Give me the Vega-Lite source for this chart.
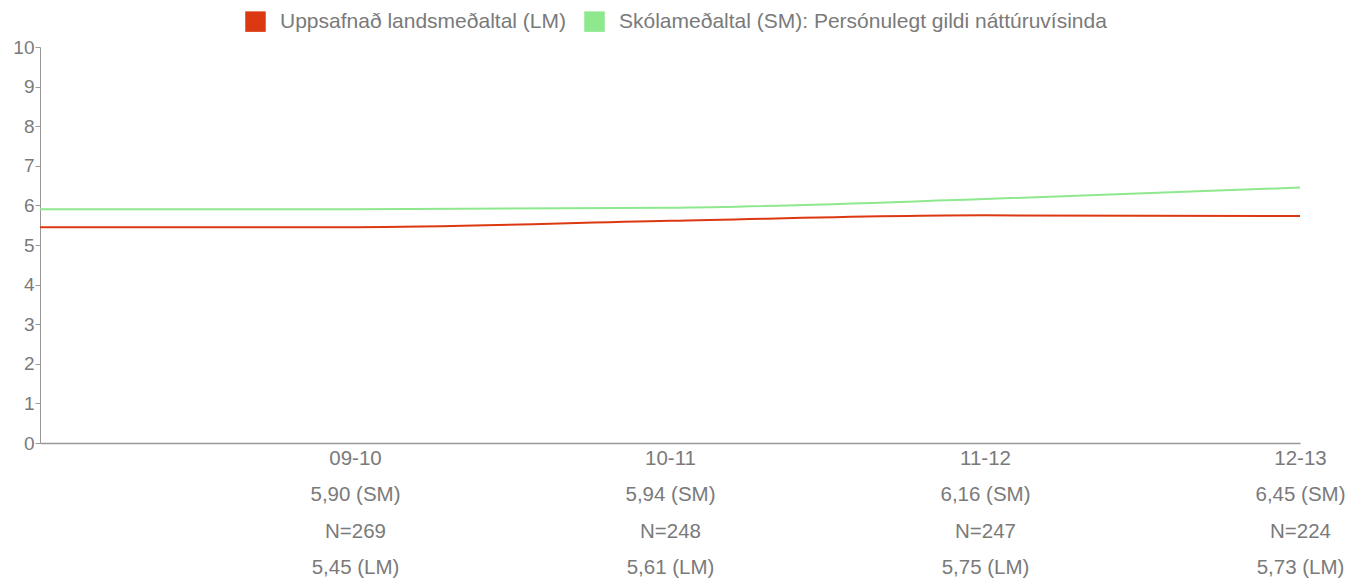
{
  "$schema": "https://vega.github.io/schema/vega-lite/v6.json",
  "autosize": {"type": "none"},
  "width": 1260,
  "height": 396,
  "padding": {"left": 40, "top": 47, "right": 47, "bottom": 135},
  "background": "white",
  "config": {
    "font": "Liberation Sans",
    "view": {"stroke": null}
  },
  "data": {
    "values": [
      {"idx": 0, "series": "Uppsafnað landsmeðaltal (LM)", "value": 5.45},
      {"idx": 1, "series": "Uppsafnað landsmeðaltal (LM)", "value": 5.45},
      {"idx": 2, "series": "Uppsafnað landsmeðaltal (LM)", "value": 5.61},
      {"idx": 3, "series": "Uppsafnað landsmeðaltal (LM)", "value": 5.75},
      {"idx": 4, "series": "Uppsafnað landsmeðaltal (LM)", "value": 5.73},
      {"idx": 0, "series": "Skólameðaltal (SM): Persónulegt gildi náttúruvísinda", "value": 5.90},
      {"idx": 1, "series": "Skólameðaltal (SM): Persónulegt gildi náttúruvísinda", "value": 5.90},
      {"idx": 2, "series": "Skólameðaltal (SM): Persónulegt gildi náttúruvísinda", "value": 5.94},
      {"idx": 3, "series": "Skólameðaltal (SM): Persónulegt gildi náttúruvísinda", "value": 6.16},
      {"idx": 4, "series": "Skólameðaltal (SM): Persónulegt gildi náttúruvísinda", "value": 6.45}
    ]
  },
  "mark": {"type": "line", "interpolate": "monotone", "strokeWidth": 2},
  "encoding": {
    "x": {
      "field": "idx",
      "type": "quantitative",
      "scale": {"domain": [0, 4], "nice": false, "zero": false},
      "axis": {
        "title": null,
        "values": [1, 2, 3, 4],
        "grid": false,
        "ticks": false,
        "domainColor": "#999999",
        "domainWidth": 1.5,
        "labelFont": "Liberation Sans",
        "labelFontSize": 20.5,
        "labelColor": "#7a7a7a",
        "labelLineHeight": 36.5,
        "labelPadding": 5,
        "labelAlign": "center",
        "labelBaseline": "top",
        "labelOverlap": false,
        "labelBound": false,
        "labelFlush": false,
        "labelExpr": "datum.value == 1 ? ['09-10', '5,90 (SM)', 'N=269', '5,45 (LM)'] : datum.value == 2 ? ['10-11', '5,94 (SM)', 'N=248', '5,61 (LM)'] : datum.value == 3 ? ['11-12', '6,16 (SM)', 'N=247', '5,75 (LM)'] : ['12-13', '6,45 (SM)', 'N=224', '5,73 (LM)']"
      }
    },
    "y": {
      "field": "value",
      "type": "quantitative",
      "scale": {"domain": [0, 10], "nice": false},
      "axis": {
        "title": null,
        "values": [0, 1, 2, 3, 4, 5, 6, 7, 8, 9, 10],
        "grid": false,
        "domainColor": "#999999",
        "domainWidth": 1,
        "tickColor": "#999999",
        "tickSize": 5,
        "labelPadding": 1,
        "labelFont": "Liberation Sans",
        "labelFontSize": 19,
        "labelColor": "#7a7a7a"
      }
    },
    "color": {
      "field": "series",
      "type": "nominal",
      "scale": {
        "domain": ["Uppsafnað landsmeðaltal (LM)", "Skólameðaltal (SM): Persónulegt gildi náttúruvísinda"],
        "range": ["#dc3912", "#8ee88e"]
      },
      "legend": {
        "title": null,
        "orient": "none",
        "direction": "horizontal",
        "legendX": 205,
        "legendY": -36,
        "symbolType": "square",
        "symbolSize": 420,
        "symbolStrokeWidth": 0,
        "symbolOpacity": 1,
        "labelFont": "Liberation Sans",
        "labelFontSize": 21,
        "labelColor": "#7a7a7a",
        "labelOffset": 14,
        "columnPadding": 18,
        "labelLimit": 700,
        "encode": {
          "symbols": {
            "update": {
              "fill": {"scale": "color", "field": "value"},
              "fillOpacity": {"value": 1}
            }
          }
        }
      }
    }
  }
}
